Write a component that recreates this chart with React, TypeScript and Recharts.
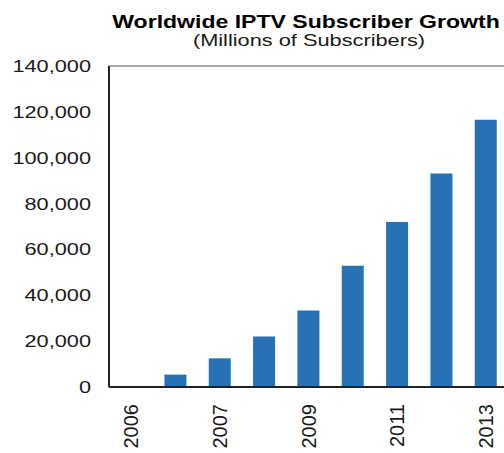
import React from "react";
import { BarChart, Bar, XAxis, YAxis, ReferenceLine } from "recharts";

const categories = ["2006", "2006", "2007", "2008", "2009", "2010", "2011", "2012", "2013"];
const subscribers = [0, 5400, 12500, 22000, 33400, 52900, 72000, 93100, 116600];
const yTicks = [0, 20000, 40000, 60000, 80000, 100000, 120000, 140000];
const titleText = "Worldwide IPTV Subscriber Growth";
const subtitleText = "(Millions of Subscribers)";

const data = categories.map((c, i) => ({ year: c, value: subscribers[i] }));

const FONT = '"Liberation Sans", Arial, sans-serif';
const STRETCH = 1.28;

const YTick = (props: any) => {
  const { x, y, payload } = props;
  return (
    <g transform={`translate(${x},${y}) scale(${STRETCH},1)`}>
      <text x={0} y={0} dy="0.355em" textAnchor="end" fontFamily={FONT} fontSize={17} fill="#1a1a1a">
        {Number(payload.value).toLocaleString("en-US")}
      </text>
    </g>
  );
};

const XTick = (props: any) => {
  const { x, y, payload } = props;
  return (
    <g transform={`translate(${x},${y}) rotate(-90)`}>
      <text x={0} y={0} dy="0.36em" textAnchor="end" fontFamily={FONT} fontSize={20} fill="#1a1a1a">
        {payload.value}
      </text>
    </g>
  );
};

export default function App() {
  return (
    <div
      style={{
        position: "absolute",
        left: 0,
        top: 0,
        width: 504,
        height: 453,
        overflow: "hidden",
        background: "#ffffff",
      }}
    >
      <div
        style={{
          position: "absolute",
          left: 306,
          top: 13,
          transform: `translateX(-50%) scaleX(${STRETCH})`,
          whiteSpace: "nowrap",
          fontFamily: FONT,
          fontWeight: "bold",
          fontSize: 18,
          lineHeight: "18px",
          color: "#000",
        }}
      >
        {titleText}
      </div>
      <div
        style={{
          position: "absolute",
          left: 309,
          top: 32,
          transform: `translateX(-50%) scaleX(${STRETCH})`,
          whiteSpace: "nowrap",
          fontFamily: FONT,
          fontSize: 17,
          lineHeight: "17px",
          color: "#1a1a1a",
        }}
      >
        {subtitleText}
      </div>
      <div style={{ position: "absolute", left: 0, top: 0 }}>
        <BarChart
          width={508}
          height={453}
          data={data}
          margin={{ top: 66, right: 0, bottom: 0, left: 0 }}
          barCategoryGap="25%"
        >
          <ReferenceLine y={140000} stroke="#555" strokeWidth={1} ifOverflow="visible" />
          <XAxis
            dataKey="year"
            height={66}
            interval={1}
            tickLine={false}
            tickSize={0}
            tickMargin={17}
            stroke="#222"
            strokeWidth={2}
            tick={<XTick />}
          />
          <YAxis
            width={109}
            domain={[0, 140000]}
            ticks={yTicks}
            tickLine={false}
            tickSize={0}
            tickMargin={18}
            stroke="#222"
            strokeWidth={2}
            tick={<YTick />}
          />
          <Bar dataKey="value" fill="#2672B4" isAnimationActive={false} />
        </BarChart>
      </div>
    </div>
  );
}
